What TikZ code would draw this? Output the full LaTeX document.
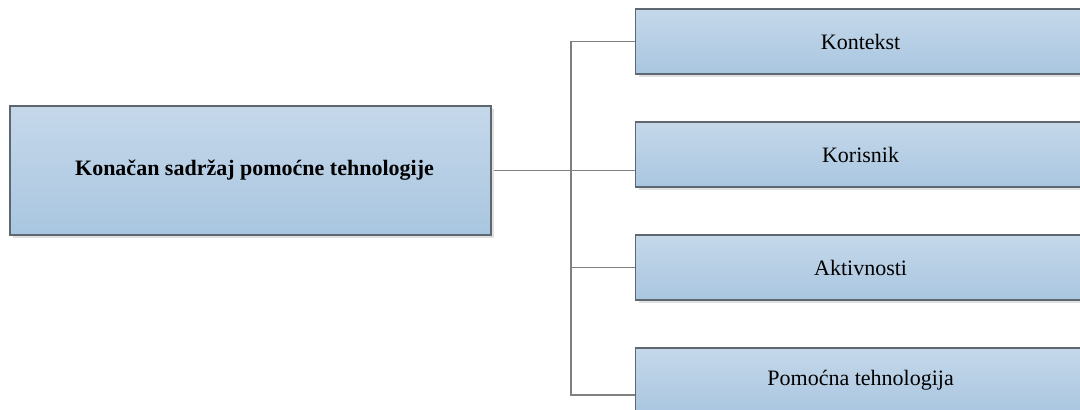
\documentclass[tikz,border=0pt]{standalone}
\usepackage{fontspec}
\setmainfont{Liberation Serif}
\usetikzlibrary{shadows,calc}
\definecolor{boxtop}{HTML}{C5D8EA}
\definecolor{boxbot}{HTML}{A9C6E0}
\definecolor{boxline}{HTML}{5E6670}
\definecolor{wire}{HTML}{808080}
\definecolor{wireshade}{HTML}{E6E6E6}
\tikzset{
  box/.style={draw=boxline, line width=1.2pt, top color=boxtop, bottom color=boxbot,
    drop shadow={shadow xshift=3pt, shadow yshift=-3pt, fill=black!12, opacity=1},
    font=\fontsize{22}{25}\selectfont, text=black, inner sep=0pt},
  leaf/.style={box, minimum width=450pt, minimum height=65pt},
  wire/.style={draw=wire, line width=1.2pt},
  wireshadow/.style={draw=wireshade, line width=1.6pt},
}
\begin{document}
\begin{tikzpicture}[x=1pt,y=-1pt]
  \useasboundingbox (0,0) rectangle (1080,410);
  \clip (0,0) rectangle (1080,410);
  \fill[white] (0,0) rectangle (1080,410);

  % connectors: soft shadow first, then the grey line
  \coordinate (bus) at (571,0);
  \coordinate (mainc) at (250.5,170.5);
  \coordinate (k1) at (636,41.5);
  \coordinate (k2) at (636,170.5);
  \coordinate (k3) at (636,267.5);
  \coordinate (k4) at (636,395);
  \coordinate (main e) at (491,170.5);
  \begin{scope}[shift={(3pt,-3pt)}]
    \draw[wireshadow] (k1) -- (k1 -| bus) -- (k4 -| bus) -- (k4);
    \draw[wireshadow] (main e) -- (k2);
    \draw[wireshadow] (k3 -| bus) -- (k3);
  \end{scope}
  \draw[wire] (k1) -- (k1 -| bus) -- (k4 -| bus) -- (k4);
  \draw[wire] (main e) -- (k2);
  \draw[wire] (k3 -| bus) -- (k3);

  % boxes
  \node[box, minimum width=481pt, minimum height=129pt] (main) at (mainc)
    {\hspace*{8pt}\bfseries Konačan sadržaj pomoćne tehnologije};
  \node[leaf, anchor=west] (b1) at (635,41.5) {Kontekst};
  \node[leaf, anchor=west] (b2) at (635,154.5) {Korisnik};
  \node[leaf, anchor=west] (b3) at (635,267.5) {Aktivnosti};
  \node[leaf, anchor=west] (b4) at (635,380.5) {Pomoćna tehnologija};
\end{tikzpicture}
\end{document}
